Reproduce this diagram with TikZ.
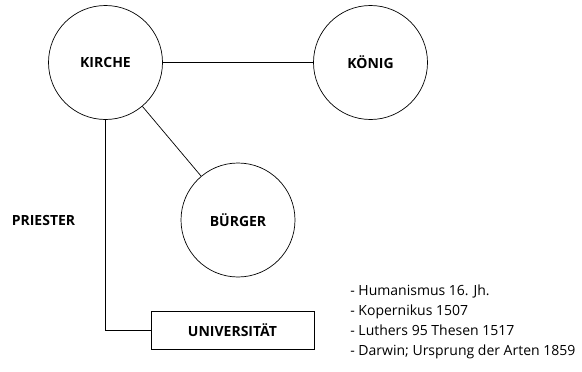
\documentclass[tikz,border=0pt]{standalone}
\usepackage{fontspec}
\setmainfont{Open Sans}
\usetikzlibrary{positioning}

\begin{document}
\begin{tikzpicture}[
  x=1pt, y=1pt,
  line width=.7pt,
  kreis/.style={circle, draw, minimum size=114pt, inner sep=0pt,
    font=\fontsize{14}{16}\selectfont\bfseries},
  kasten/.style={rectangle, draw, minimum width=163pt, minimum height=38pt,
    font=\fontsize{14}{16}\selectfont\bfseries}]

  \useasboundingbox (0,0) rectangle (582,-372);

  \node[kreis] (kirche) at (105.5,-62.5) {KIRCHE};
  \node[kreis] (koenig) at (370.5,-62.5) {KÖNIG};
  \node[kreis] (buerger) at (238,-220) {BÜRGER};
  \node[kasten] (uni) at (232.5,-330) {UNIVERSITÄT};
  \node[font=\fontsize{14}{16}\selectfont\bfseries] (priester) at (43.5,-220) {PRIESTER};
  \node[anchor=west, align=left, inner sep=0pt,
    font=\fontsize{14}{20}\selectfont] (liste) at (350,-321.5)
    {- Humanismus 16. Jh.\\
     - Kopernikus 1507\\
     - Luthers 95 Thesen 1517\\
     - Darwin; Ursprung der Arten 1859};

  \draw (kirche) -- (koenig);
  \draw (kirche) -- (buerger);
  \draw (kirche.south) |- (uni.west);
\end{tikzpicture}
\end{document}
